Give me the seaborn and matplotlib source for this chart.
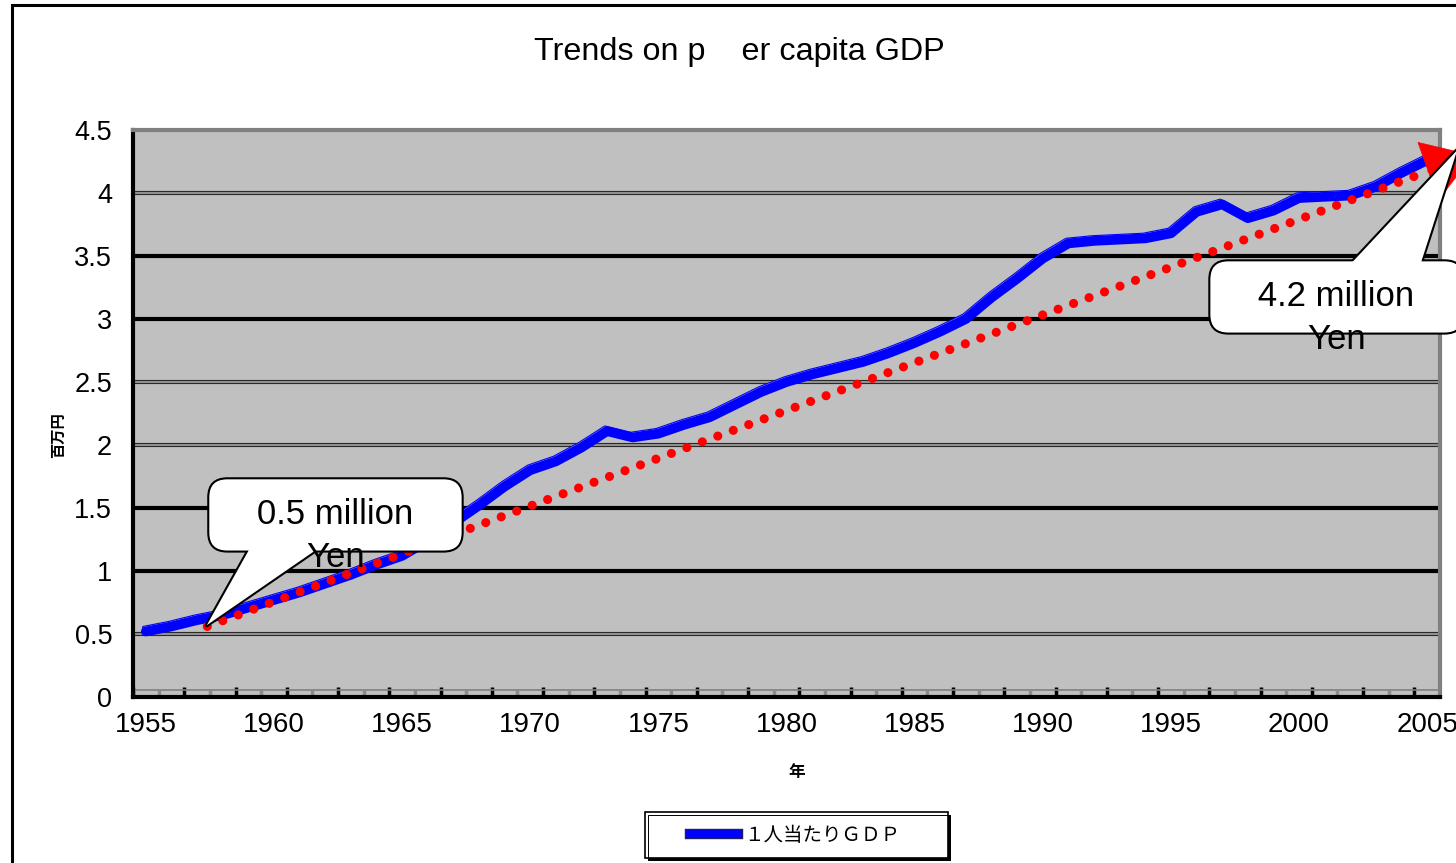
import numpy as np
import pandas as pd
import matplotlib
matplotlib.use("Agg")
import matplotlib.pyplot as plt
import matplotlib.patheffects as pe
from matplotlib.patches import Rectangle
from matplotlib.lines import Line2D
from matplotlib.font_manager import FontProperties
import seaborn as sns


# data

years = list(range(1955, 2006))
gdp = [0.52, 0.56, 0.61, 0.65, 0.71, 0.77, 0.83, 0.90, 0.97, 1.05,
       1.12, 1.24, 1.38, 1.52, 1.67, 1.80, 1.87, 1.98, 2.11, 2.06,
       2.09, 2.16, 2.22, 2.32, 2.42, 2.50, 2.56, 2.61, 2.66, 2.73,
       2.81, 2.90, 3.00, 3.17, 3.32, 3.48, 3.60, 3.62, 3.63, 3.64,
       3.68, 3.85, 3.91, 3.80, 3.86, 3.96, 3.97, 3.98, 4.05, 4.16,
       4.26]
series_label = "１人当たりＧＤＰ"

# red dotted trend arrow
trend_years = [1957.4, 2005.0]
trend_values = [0.56, 4.17]
arrow_tip = (2006.8, 4.30)

# callouts
callout_labels = ["0.5 million", "4.2 million"]
callout_points = [(1957.38, 0.57), (2006.17, 4.34)]
callout_text_pos = [(1962.4, 1.445), (2001.46, 3.175)]
callout_anchor = [(1961.3, 1.445), (2002.8, 3.175)]
callout_tail = [2.0, 2.2]
yen_offset = 0.34

label_years = [1955, 1960, 1965, 1970, 1975, 1980, 1985, 1990, 1995, 2000, 2005]
y_ticks = [0, 0.5, 1, 1.5, 2, 2.5, 3, 3.5, 4, 4.5]
y_tick_labels = ["0", "0.5", "1", "1.5", "2", "2.5", "3", "3.5", "4", "4.5"]
grid_thick = [1.0, 1.5, 3.0, 3.5]
grid_double = [0.5, 2.0, 2.5, 4.0]

title = "Trends on p    er capita GDP"
x_label = "年"
y_label = "百万円"


sns.set_theme(style="white")
plt.rcParams['font.family'] = ['Liberation Sans', 'Noto Sans CJK JP', 'DejaVu Sans']
plt.rcParams['text.color'] = 'black'
plt.rcParams['xtick.color'] = 'black'
plt.rcParams['ytick.color'] = 'black'

W, H = 1456, 863
fig = plt.figure(figsize=(W / 100, H / 100), dpi=100)
fig.patch.set_facecolor("white")
ax = fig.add_axes([133 / W, 1 - 697 / H, (1440 - 133) / W, (697 - 130) / H])
ax.set_facecolor("#c0c0c0")


# gridlines

for v in grid_double:
    ax.axhline(v, color="#2a2a2a", lw=3.0, zorder=1)
    ax.axhline(v, color="#9a9a9a", lw=1.3, zorder=1.1)
for v in grid_thick:
    ax.axhline(v, color="black", lw=3.0, zorder=1)
ax.axhline(0.055, color="#808080", lw=1.2, zorder=1)


# main line

df = pd.DataFrame({"year": years, "gdp": gdp})
sns.lineplot(data=df, x="year", y="gdp", ax=ax, color="#0000ff", lw=7.0,
             legend=False, zorder=5)
line = ax.lines[-1]
line.set_solid_joinstyle("round")
line.set_path_effects([
    pe.Stroke(offset=(-1.5, 2.8), linewidth=2.6, foreground="#0000ff"),
    pe.Stroke(offset=(-1.5, 2.8), linewidth=1.0, foreground="#c0c0c0"),
    pe.Normal(),
])


# trend arrow

ax.plot(trend_years, trend_values, color="red", lw=6.6,
        linestyle=(0, (0.001, 1.8)), dash_capstyle="round", zorder=6)
ax.annotate("", xy=arrow_tip, xytext=(trend_years[-1], trend_values[-1]),
            arrowprops=dict(arrowstyle="-|>,head_length=1.7,head_width=1.1",
                            color="red", lw=0.5, mutation_scale=20,
                            shrinkA=0, shrinkB=0),
            annotation_clip=False, zorder=7)


# callouts: outlined pointer, box, white pointer fill over the seam, text

for lab, pt, tp, an, tw in zip(callout_labels, callout_points, callout_text_pos,
                               callout_anchor, callout_tail):
    txt = "   " + lab + "   "
    box = "round,pad=0.58,rounding_size=0.55"
    wedge = "wedge,tail_width=%.2f,shrink_factor=0.5" % tw
    ax.annotate("", xy=pt, xytext=an,
                arrowprops=dict(arrowstyle=wedge, fc="white", ec="black", lw=3.0,
                                mutation_scale=25, shrinkA=0, shrinkB=0),
                annotation_clip=False, zorder=8)
    ax.text(tp[0], tp[1], txt, ha="center", va="center", fontsize=25, color="none",
            bbox=dict(boxstyle=box, fc="white", ec="black", lw=1.5), zorder=8.1)
    ax.annotate("", xy=pt, xytext=an,
                arrowprops=dict(arrowstyle=wedge, fc="white", ec="none", lw=0,
                                mutation_scale=25, shrinkA=0, shrinkB=0),
                annotation_clip=False, zorder=8.2)
    ax.text(tp[0], tp[1], txt, ha="center", va="center", fontsize=25,
            color="black", zorder=8.3)
    ax.text(tp[0], tp[1] - yen_offset, "Yen", ha="center", va="center",
            fontsize=25, color="black", zorder=9)


# axes

ax.set_xlim(1954.5, 2005.5)
ax.set_ylim(0, 4.5)
ax.set_xticks(label_years)
ax.set_xticklabels([str(y) for y in label_years], fontsize=20)
ax.set_yticks(y_ticks)
ax.set_yticklabels(y_tick_labels, fontsize=19.5)
half_years = np.arange(years[0] - 0.5, years[-1] + 1, 1.0)
ax.set_xticks(half_years[::2], minor=True)
ax.vlines(half_years[1::2], 0, 0.012, transform=ax.get_xaxis_transform(),
          colors="#8c8c8c", lw=2.5, zorder=2)
ax.tick_params(axis="x", which="major", length=0, pad=11)
ax.tick_params(axis="x", which="minor", direction="in", length=7, width=2.5,
               color="black", bottom=True)
ax.tick_params(axis="y", which="major", length=0, pad=15)
ax.set_xlabel("")
ax.set_ylabel("")
for s in ["left", "bottom"]:
    ax.spines[s].set_color("black")
    ax.spines[s].set_linewidth(3)
for s in ["top", "right"]:
    ax.spines[s].set_color("#808080")
    ax.spines[s].set_linewidth(3)

fig.text(739 / W, 1 - 52 / H, title, fontsize=23.3, ha="center", va="center")
fig.text(797 / W, 1 - 772 / H, x_label, fontsize=12, fontweight="bold",
         ha="center", va="center", family=["Noto Sans CJK JP"])
fig.text(58 / W, 1 - 435 / H, y_label, fontsize=11, fontweight="bold", rotation=90,
         ha="center", va="center", family=["Noto Sans CJK JP"])


# legend with a hand-drawn frame and shadow

fig.add_artist(Rectangle((648 / W, 1 - 861 / H), 303 / W, 46 / H,
                         transform=fig.transFigure, fc="black", ec="none", zorder=1))
fig.add_artist(Rectangle((645 / W, 1 - 858 / H), 303 / W, 46 / H,
                         transform=fig.transFigure, fc="white", ec="black", lw=1.2, zorder=2))
fig.add_artist(Rectangle((648 / W, 1 - 858 / H), 300 / W, 43 / H,
                         transform=fig.transFigure, fill=False, ec="black", lw=0.7, zorder=2))
proxy = Line2D([], [], color="#0000ff", lw=5.5, solid_capstyle="projecting",
               path_effects=[pe.Stroke(linewidth=7.5, foreground="#20206a"), pe.Normal()])
fig.legend(handles=[proxy], labels=[series_label], loc="center",
           bbox_to_anchor=(795 / W, 1 - 835 / H), frameon=False,
           handlelength=2.5, handletextpad=0.3,
           prop=FontProperties(family="Noto Sans CJK JP", size=14))

# outer chart border
fig.add_artist(Rectangle((12 / W, -0.05), 1.2, 1.05 - 5 / H, transform=fig.transFigure,
                         fill=False, ec="black", lw=2.2, zorder=10))

plt.savefig("out.png", dpi=100)
plt.close()
